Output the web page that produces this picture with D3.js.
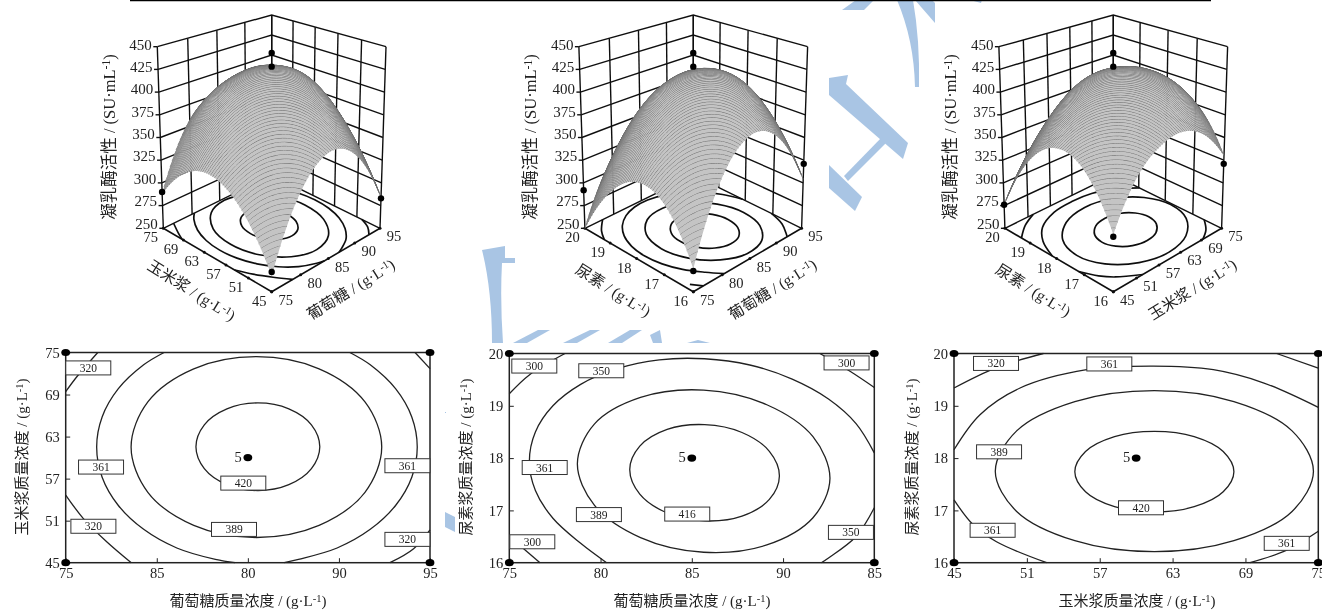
<!DOCTYPE html>
<html>
<head>
<meta charset="utf-8">
<script src="https://cdn.jsdelivr.net/npm/d3@7"></script>
<style>
  html, body { margin: 0; padding: 0; background: #fff; }
  svg { display: block; }
  text { font-family: "Liberation Serif", "Noto Sans CJK SC", serif; fill: #222; }
</style>
</head>
<body>
<svg id="chart" width="1322" height="610">
  <defs><filter id="scan" x="0" y="0" width="100%" height="100%"><feGaussianBlur stdDeviation="0.4"/></filter></defs>
</svg>
<script>
// axis values
const zTicks = [250, 275, 300, 325, 350, 375, 400, 425, 450];
const glucoseTicks = [75, 80, 85, 90, 95];
const cornTicks = [45, 51, 57, 63, 69, 75];
const ureaTicks = [16, 17, 18, 19, 20];
// the printed labels really do say this in the source figure
const glucoseLabelsA = ['75', '85', '80', '90', '95'];
const glucoseLabelsB = ['75', '80', '85', '90', '85'];

// response surface at the axis ticks (rows = y axis, cols = x axis)
const surfaceGlucoseCorn = [
  [265, 334, 360, 343, 284],
  [306, 375, 401, 385, 325],
  [329, 398, 424, 408, 348],
  [334, 403, 424, 405, 346],
  [320, 389, 407, 390, 332],
  [288, 357, 375, 358, 300]
];
const surfaceGlucoseUrea = [
  [272, 349, 378, 362, 304],
  [321, 393, 421, 405, 345],
  [329, 401, 424, 406, 347],
  [303, 375, 396, 379, 320],
  [250, 313, 334, 318, 258]
];
const surfaceCornUrea = [
  [305, 350, 371, 376, 363, 330],
  [355, 394, 415, 420, 407, 376],
  [364, 403, 424, 424, 408, 378],
  [337, 376, 398, 395, 381, 352],
  [276, 315, 336, 334, 320, 290]
];

// contour lines, [closed, points] in data units
const contoursGlucoseCorn = [
  [true, [[88.95,61.55],[88.49,64.68],[87.25,66.96],[85.55,67.8],[83.85,66.96],[82.61,64.68],[82.15,61.55],[82.61,58.43],[83.85,56.14],[85.55,55.3],[87.25,56.14],[88.49,58.43]]],
  [true, [[92.35,61.5],[91.43,67.95],[88.91,72.67],[85.47,74.4],[82.03,72.67],[79.51,67.95],[78.59,61.5],[79.51,55.05],[82.03,50.33],[85.47,48.6],[88.91,50.33],[91.43,55.05]]],
  [false, [[80.4,75],[79.28,73.24],[77.88,69.8],[77,65.8],[76.7,61.5],[77,57.2],[77.88,53.2],[79.28,49.76],[81.1,47.1],[83.22,45.47],[84.3,45]]],
  [false, [[87,45],[87.78,45.47],[89.9,47.1],[91.72,49.76],[93.12,53.2],[94,57.2],[94.3,61.5],[94,65.8],[93.12,69.8],[91.72,73.24],[90.6,75]]],
  [false, [[75,69.4],[75.6,71.5],[76.76,75]]],
  [false, [[75,54.65],[75.97,51.3],[77.25,48],[78.6,45]]],
  [false, [[94.18,75],[95,72.7]]],
  [false, [[92.8,45],[94.1,47],[95,49.7]]]
];
const contoursGlucoseUrea = [
  [true, [[89.8,17.66],[89.25,18.13],[87.75,18.49],[85.7,18.64],[83.65,18.55],[82.15,18.23],[81.6,17.78],[82.15,17.31],[83.65,16.95],[85.7,16.8],[87.75,16.89],[89.25,17.21]]],
  [true, [[92.57,17.61],[91.64,18.41],[89.11,19.02],[85.65,19.3],[82.19,19.16],[79.66,18.65],[78.73,17.89],[79.66,17.1],[82.19,16.48],[85.65,16.2],[89.11,16.34],[91.64,16.86]]],
  [false, [[95,18.1],[94,18.66],[92.49,19.13],[90.5,19.51],[88.18,19.78],[85.7,19.9],[83.22,19.88],[80.9,19.71],[78.91,19.41],[77.39,19.0],[76.43,18.5],[76.1,17.94],[76.43,17.38],[77.39,16.85],[78.91,16.37],[80.33,16]]],
  [false, [[92.1,16],[92.49,16.09],[94,16.5],[95,17.05]]],
  [false, [[75,19.23],[76.13,19.6],[78.05,20]]],
  [false, [[92.02,20],[93.67,19.66],[95,19.35]]],
  [false, [[75.77,16.27],[76.68,16]]]
];
const contoursCornUrea = [
  [true, [[68.05,17.74],[67.17,18.125],[64.78,18.41],[61.5,18.51],[58.22,18.41],[55.83,18.125],[54.95,17.74],[55.83,17.355],[58.22,17.07],[61.5,16.97],[64.78,17.07],[67.17,17.355]]],
  [true, [[74.6,17.75],[72.84,18.52],[68.05,19.08],[61.5,19.29],[54.95,19.08],[50.16,18.52],[48.4,17.75],[50.16,16.98],[54.95,16.42],[61.5,16.21],[68.05,16.42],[72.84,16.98]]],
  [false, [[45,18.16],[47.14,18.83],[50.44,19.34],[55.93,19.69],[61.4,19.76],[66.36,19.69],[70.47,19.44],[75,18.97]]],
  [false, [[45,17.2],[46.6,16.72],[48.5,16.4],[52.63,16]]],
  [false, [[69.38,16],[72.4,16.24],[75,16.6]]],
  [false, [[45,19.34],[48.5,19.73],[52.36,20]]],
  [false, [[71.57,20],[75,19.72]]]
];

// contour label boxes: x, y, text
const labelsGlucoseCorn = [[76.24,72.8,'320'],[76.94,58.65,'361'],[84.75,56.36,'420'],[84.24,49.75,'389'],[76.52,50.2,'320'],[93.76,58.84,'361'],[93.76,48.33,'320']];
const labelsGlucoseUrea = [[76.37,19.76,'300'],[80.04,19.67,'350'],[93.48,19.82,'300'],[76.94,17.82,'361'],[79.91,16.92,'389'],[84.75,16.93,'416'],[76.26,16.4,'300'],[93.72,16.58,'350']];
const labelsCornUrea = [[48.46,19.81,'320'],[57.79,19.8,'361'],[48.71,18.12,'389'],[60.4,17.05,'420'],[48.18,16.62,'361'],[72.4,16.37,'361']];

// design points shown on the 3D plots: x, y, activity
const pointsGlucoseCorn = [[75,45,269],[75,75,290],[95,45,283],[85,60,443],[85,60,428]];
const pointsGlucoseUrea = [[75,16,270],[75,20,292],[95,16,321],[85,18,443],[85,18,428]];
const pointsCornUrea = [[45,16,303],[45,20,276],[75,16,321],[60,18,443],[60,18,428]];

const panels = [
  { cx: 271.7, xTicks: glucoseTicks, yTicks: cornTicks, xLabels: glucoseLabelsA, surface: surfaceGlucoseCorn, contours: contoursGlucoseCorn, labels: labelsGlucoseCorn, points: pointsGlucoseCorn,
    xName: '葡萄糖', yName: '玉米浆', frame: [65.7, 430, 352.5, 562.7], xTitle: ['葡萄糖质量浓度', 248], yTitle: ['玉米浆质量浓度', 20] },
  { cx: 693.3, xTicks: glucoseTicks, yTicks: ureaTicks, xLabels: glucoseLabelsB, surface: surfaceGlucoseUrea, contours: contoursGlucoseUrea, labels: labelsGlucoseUrea, points: pointsGlucoseUrea,
    xName: '葡萄糖', yName: '尿素', frame: [509.3, 874.3, 353.5, 562.7], xTitle: ['葡萄糖质量浓度', 692], yTitle: ['尿素浆质量浓度', 464] },
  { cx: 1113.3, xTicks: cornTicks, yTicks: ureaTicks, xLabels: cornTicks.map(String), surface: surfaceCornUrea, contours: contoursCornUrea, labels: labelsCornUrea, points: pointsCornUrea,
    xName: '玉米浆', yName: '尿素', frame: [954, 1318.3, 353.5, 562.7], xTitle: ['玉米浆质量浓度', 1137], yTitle: ['尿素浆质量浓度', 910] }
];

const svg = d3.select('#chart');
const root = svg.append('g').attr('filter', 'url(#scan)');

root.append('rect').attr('width', 1322).attr('height', 610).attr('fill', '#fff');

// blue watermark sitting behind the figure
const watermark = [
  'M842,10L856,0L874,0L864,10Z',
  'M897,0L913,0Q920,40 919,87L915,87Q914,40 897,0Z',
  'M915,0L932,0L935,3L935,23Z',
  'M970,0L982,0L981,3Z',
  'M829,78L848,75L846,84L908,143L903,159L829,95Z',
  'M882,137L886,143L848,181L844,176Z',
  'M829,165L862,197L855,211L829,188Z',
  'M482,250L505,246L505,258L515,258L515,263L502,263Q500,300 503,343L492,343Q492,290 482,250Z',
  'M513,343L538,330L550,330L527,343Z',
  'M563,343L590,330L600,330L577,343Z',
  'M608,343L630,330L642,330L622,343Z',
  'M650,335L660,330L662,343L653,343Z',
  'M687,343L698,340L710,343Z',
  'M445,512L455,517L455,532L445,527Z',
  'M445,412L446,412L446,413L445,413Z'
];
root.append('g').selectAll('path').data(watermark).join('path')
  .attr('d', d => d).attr('fill', '#a9c5e4');

// top rule of the page
root.append('line').attr('x1', 130).attr('x2', 1211).attr('y1', 0.5).attr('y2', 0.5)
  .attr('stroke', '#000').attr('stroke-width', 1.6);

// superscripted unit, used by every axis title
function addTitle(sel, name, unit) {
  sel.append('tspan').text(name + ' / (' + unit + '·' + (unit === 'g' ? 'L' : 'mL'));
  sel.append('tspan').attr('dy', '-0.4em').attr('font-size', '70%').text('-1');
  sel.append('tspan').attr('dy', '0.28em').text(')');
}

// Catmull-Rom through four samples
function cr(p0, p1, p2, p3, t) {
  return 0.5 * (2 * p1 + (p2 - p0) * t + (2 * p0 - 5 * p1 + 4 * p2 - p3) * t * t + (3 * p1 - p0 - 3 * p2 + p3) * t * t * t);
}
function sampleLine(arr, pos) {
  const n = arr.length;
  const i = Math.min(Math.floor(pos), n - 2);
  const at = k => {
    if (k < 0) return 3 * arr[0] - 3 * arr[1] + arr[2];
    if (k >= n) return 3 * arr[n - 1] - 3 * arr[n - 2] + arr[n - 3];
    return arr[k];
  };
  return cr(at(i - 1), at(i), at(i + 1), at(i + 2), pos - i);
}
// smooth reading of the tick grid so the mesh lines can run between ticks
function surfaceAt(grid, u, v) {
  const cols = grid[0].length - 1, rows = grid.length - 1;
  const col = grid.map(row => sampleLine(row, u * cols));
  return sampleLine(col, v * rows);
}

// hand fitted perspective for the 3D boxes
const depth = { F: 0.914, R: 1, L: 1, B: 1.086 };
function makeProjection(cx) {
  const c0 = {
    F: [cx, 291.7], R: [cx + 108.3, 228.3], L: [cx - 108.4, 228.3], B: [cx, 175]
  };
  const c1 = {
    F: [cx, 84.3], R: [cx + 114.3, 46.7], L: [cx - 114.4, 46.7], B: [cx, 15]
  };
  return function(u, v, w) {
    const b = { F: (1 - u) * (1 - v), R: u * (1 - v), L: (1 - u) * v, B: u * v };
    let sx = 0, sy = 0, sum = 0;
    for (const k of ['F', 'R', 'L', 'B']) {
      const m = b[k] * depth[k];
      sx += m * (c0[k][0] * (1 - w) + c1[k][0] * w);
      sy += m * (c0[k][1] * (1 - w) + c1[k][1] * w);
      sum += m;
    }
    return [sx / sum, sy / sum];
  };
}

const lineOf = d3.line();

function draw3D(p) {
  const g = root.append('g');
  const proj = makeProjection(p.cx);
  const uS = d3.scaleLinear().domain(d3.extent(p.xTicks)).range([0, 1]);
  const vS = d3.scaleLinear().domain(d3.extent(p.yTicks)).range([0, 1]);
  const wS = d3.scaleLinear().domain(d3.extent(zTicks)).range([0, 1]).clamp(true);

  // back walls
  const grid = g.append('g').attr('fill', 'none').attr('stroke', '#111').attr('stroke-width', 1.4);
  zTicks.forEach(z => {
    const w = wS(z);
    grid.append('path').attr('d', lineOf([proj(0, 1, w), proj(1, 1, w), proj(1, 0, w)]));
    const a = proj(0, 1, w);
    grid.append('line').attr('x1', a[0] - 4).attr('x2', a[0]).attr('y1', a[1]).attr('y2', a[1]);
  });
  p.xTicks.forEach(t => {
    const a = proj(uS(t), 1, 0), b = proj(uS(t), 1, 1);
    grid.append('line').attr('x1', a[0]).attr('y1', a[1]).attr('x2', b[0]).attr('y2', b[1]);
  });
  p.yTicks.forEach(t => {
    const a = proj(1, vS(t), 0), b = proj(1, vS(t), 1);
    grid.append('line').attr('x1', a[0]).attr('y1', a[1]).attr('x2', b[0]).attr('y2', b[1]);
  });

  // contours projected on the floor
  const floorLine = d3.line();
  p.contours.forEach(([closed, pts]) => {
    floorLine.curve(closed ? d3.curveCatmullRomClosed : d3.curveCatmullRom);
    g.append('path')
      .attr('d', floorLine(pts.map(d => proj(uS(d[0]), vS(d[1]), 0))))
      .attr('fill', 'none').attr('stroke', '#111').attr('stroke-width', 1.7);
  });

  // floor front edges and ticks
  g.append('path').attr('d', lineOf([proj(0, 1, 0), proj(0, 0, 0), proj(1, 0, 0)]))
    .attr('fill', 'none').attr('stroke', '#111').attr('stroke-width', 1.6);
  p.xTicks.forEach((t, i) => {
    const a = proj(uS(t), 0, 0);
    g.append('circle').attr('cx', a[0]).attr('cy', a[1]).attr('r', 1.5).attr('fill', '#111');
    g.append('text').attr('x', a[0] + 14).attr('y', a[1] + 8).attr('dy', '.35em').attr('text-anchor', 'middle')
      .attr('font-size', 14.5).text(t);
  });
  p.yTicks.forEach(t => {
    const a = proj(0, vS(t), 0);
    g.append('circle').attr('cx', a[0]).attr('cy', a[1]).attr('r', 1.5).attr('fill', '#111');
    g.append('text').attr('x', a[0] - 12.5).attr('y', a[1] + 9).attr('dy', '.35em').attr('text-anchor', 'middle')
      .attr('font-size', 14.5).text(t);
  });

  // surface: slices across the diagonal, painted from the back corner to the front
  const bands = 55, steps = 40;
  const slice = s => {
    const from = Math.max(0, s - 1), to = Math.min(1, s);
    return d3.range(steps + 1).map(i => {
      const u = from + (to - from) * i / steps, v = s - u;
      return proj(u, v, wS(surfaceAt(p.surface, u, v)));
    });
  };
  const surf = g.append('g');
  for (let k = 2 * bands - 1; k >= 0; k--) {
    const near = slice(k / bands), far = slice((k + 1) / bands);
    surf.append('path').attr('d', lineOf(near.concat(far.slice().reverse())) + 'Z')
      .attr('fill', '#c4c4c4').attr('stroke', 'none');
    surf.append('path').attr('d', lineOf(near))
      .attr('fill', 'none').attr('stroke', '#666').attr('stroke-width', 0.9);
  }

  // design points
  p.points.forEach(d => {
    const a = proj(uS(d[0]), vS(d[1]), wS(d[2]));
    g.append('circle').attr('cx', a[0]).attr('cy', a[1]).attr('r', 3.2).attr('fill', '#000');
  });

  // z tick labels, a little higher at the foot of the axis
  zTicks.forEach(z => {
    const a = proj(0, 1, wS(z));
    g.append('text').attr('x', a[0] - 5.5).attr('y', a[1] - 5 + 2.7 * wS(z)).attr('dy', '.35em').attr('text-anchor', 'end')
      .attr('font-size', 15).text(z);
  });

  // axis titles
  g.append('text').attr('text-anchor', 'middle').attr('font-size', 16.5)
    .attr('transform', `translate(${p.cx - 157},137) rotate(-90)`)
    .call(addTitle, '凝乳酶活性', 'SU');
  g.append('text').attr('text-anchor', 'middle').attr('font-size', 15.5)
    .attr('transform', `translate(${p.cx - 83},295) rotate(32)`)
    .call(addTitle, p.yName, 'g');
  g.append('text').attr('text-anchor', 'middle').attr('font-size', 15.5)
    .attr('transform', `translate(${p.cx + 82},294) rotate(-32)`)
    .call(addTitle, p.xName, 'g');
}

function drawContour(p) {
  const [x0, x1, y0, y1] = p.frame;
  const g = root.append('g');
  const x = d3.scaleLinear().domain(d3.extent(p.xTicks)).range([x0, x1]);
  const y = d3.scaleLinear().domain(d3.extent(p.yTicks)).range([y1, y0]);

  const line = d3.line().x(d => x(d[0])).y(d => y(d[1]));
  p.contours.forEach(([closed, pts]) => {
    line.curve(closed ? d3.curveCatmullRomClosed : d3.curveCatmullRom);
    g.append('path').attr('d', line(pts)).attr('fill', 'none')
      .attr('stroke', '#222').attr('stroke-width', 1.3);
  });

  g.append('rect').attr('x', x0).attr('y', y0).attr('width', x1 - x0).attr('height', y1 - y0)
    .attr('fill', 'none').attr('stroke', '#222').attr('stroke-width', 1.5);

  const xAxis = d3.axisBottom(x).tickValues(p.xTicks)
    .tickFormat((d, i) => p.xLabels[i]).tickSizeInner(-4.5).tickSizeOuter(0).tickPadding(5);
  const yAxis = d3.axisLeft(y).tickValues(p.yTicks)
    .tickFormat(d => d).tickSizeInner(-4.5).tickSizeOuter(0).tickPadding(6);
  const ax = g.append('g').attr('transform', `translate(0,${y1})`).call(xAxis);
  const ay = g.append('g').attr('transform', `translate(${x0},0)`).call(yAxis);
  [ax, ay].forEach(a => {
    a.select('.domain').remove();
    a.selectAll('text').attr('font-size', 14.5).attr('font-family', null);
    a.selectAll('line').attr('stroke', '#222');
    a.attr('font-family', null).attr('font-size', null);
  });

  // labels sit on top of the lines
  p.labels.forEach(([lx, ly, txt]) => {
    const b = g.append('g').attr('transform', `translate(${x(lx)},${y(ly)})`);
    b.append('rect').attr('x', -22.5).attr('y', -7).attr('width', 45).attr('height', 14)
      .attr('fill', '#fff').attr('stroke', '#333').attr('stroke-width', 1);
    b.append('text').attr('text-anchor', 'middle').attr('dy', '.35em').attr('font-size', 11.5).text(txt);
  });

  // corner runs and the centre point
  const xs = d3.extent(p.xTicks), ys = d3.extent(p.yTicks);
  const mid = [(xs[0] + xs[1]) / 2, (ys[0] + ys[1]) / 2];
  [[xs[0], ys[0]], [xs[0], ys[1]], [xs[1], ys[0]], [xs[1], ys[1]], mid].forEach(d => {
    g.append('ellipse').attr('cx', x(d[0])).attr('cy', y(d[1])).attr('rx', 4.4).attr('ry', 3.6).attr('fill', '#000');
  });
  g.append('text').attr('x', x(mid[0]) - 6).attr('y', y(mid[1])).attr('dy', '.3em')
    .attr('text-anchor', 'end').attr('font-size', 14.5).text('5');

  g.append('text').attr('x', p.xTitle[1]).attr('y', 606).attr('text-anchor', 'middle').attr('font-size', 15)
    .call(addTitle, p.xTitle[0], 'g');
  g.append('text').attr('text-anchor', 'middle').attr('font-size', 15)
    .attr('transform', `translate(${p.yTitle[1] + 7},457) rotate(-90)`)
    .call(addTitle, p.yTitle[0], 'g');
}

panels.forEach(p => {
  draw3D(p);
  drawContour(p);
});
</script>
</body>
</html>
